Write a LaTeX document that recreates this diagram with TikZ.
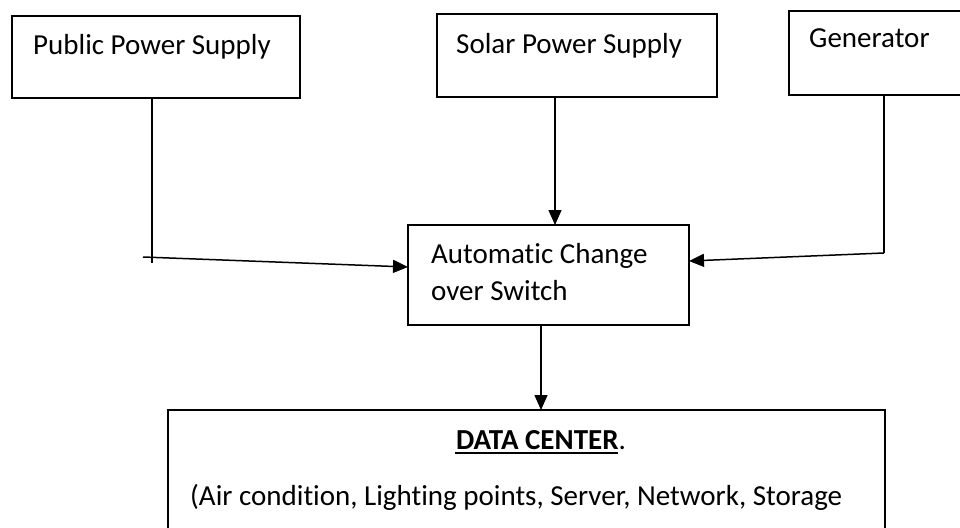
\documentclass[tikz,border=0pt]{standalone}
\usepackage{fontspec}
\setmainfont{Carlito}[Ligatures={NoCommon}]
\usetikzlibrary{arrows.meta}
\tikzset{
  blk/.style={draw=black, line width=1.6pt},
  wire/.style={draw=black, line width=1.5pt},
  feed/.style={wire, -{Triangle[length=15pt,width=13pt]}},
  lbl/.style={anchor=base west, inner sep=0pt, font=\fontsize{29}{35}\selectfont},
}
\begin{document}
\begin{tikzpicture}[x=1pt,y=-1pt]
  \useasboundingbox (0,0) rectangle (960,527);
  \clip (0,0) rectangle (960,527);
  % source boxes
  \draw[blk] (12,16) rectangle (300,98);
  \draw[blk] (437,14) rectangle (717,97);
  \draw[blk] (789,11) rectangle (975,95);
  % changeover switch and data centre
  \draw[blk] (408,225) rectangle (689,325);
  \draw[blk] (168,410) rectangle (885,560);
  % named anchors for the connectors
  \coordinate (pubout) at (152,98);
  \coordinate (pubbend) at (152,263);
  \coordinate (pubstart) at (143,257);
  \coordinate (acsleft) at (408,267);
  \coordinate (solout) at (555,97);
  \coordinate (acstop) at (555,225);
  \coordinate (genout) at (884,95);
  \coordinate (genbend) at (884,253);
  \coordinate (acsright) at (689,261);
  \coordinate (acsout) at (541,325);
  \coordinate (dctop) at (541,410);
  % labels
  \node[lbl] (pub) at (33,55) {Public Power Supply};
  \node[lbl] (sol) at (456,53) {Solar Power Supply};
  \node[lbl] (gen) at (809,48) {Generator};
  \node[lbl] (acs1) at (431,263) {Automatic Change};
  \node[lbl] (acs2) at (431,300) {over Switch};
  \node[anchor=base, inner sep=0pt, font=\fontsize{29}{35}\selectfont] (dc) at (541,449)
    {\textbf{DATA CENTER}.};
  \draw[line width=1.3pt] ([xshift=-0.5pt,yshift=-4pt]dc.base west) -- ([xshift=-8pt,yshift=-4pt]dc.base east);
  \node[lbl] (dcitems) at (190,505) {(Air condition, Lighting points, Server, Network, Storage};
  % connectors
  \draw[wire] (pubout) -- (pubbend);
  \draw[feed] (pubstart) -- (acsleft);
  \draw[feed] (solout) -- (acstop);
  \draw[wire] (genout) -- (genbend);
  \draw[feed] (genbend) -- (acsright);
  \draw[feed] (acsout) -- (dctop);
\end{tikzpicture}
\end{document}
